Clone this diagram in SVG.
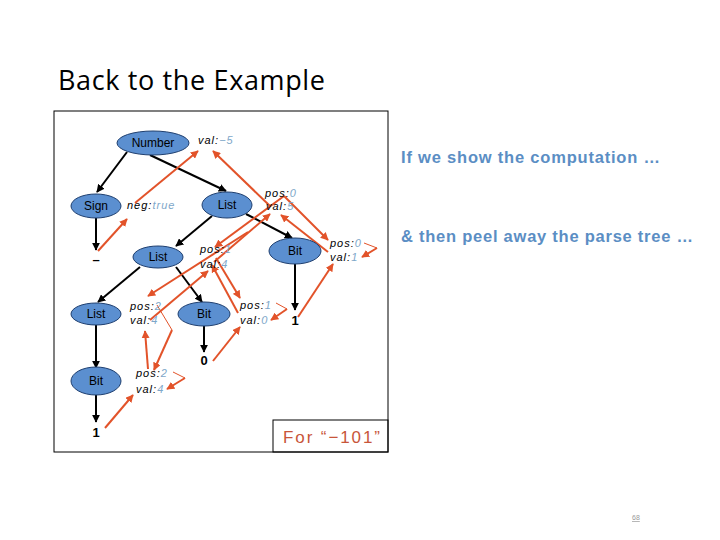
<svg xmlns="http://www.w3.org/2000/svg" width="720" height="540" viewBox="0 0 720 540">
<defs>
<marker id="bk" viewBox="0 0 10 10" refX="9" refY="5" markerWidth="8" markerHeight="8" markerUnits="userSpaceOnUse" orient="auto"><path d="M0,0 L10,5 L0,10 z" fill="#000"/></marker>
<marker id="or" viewBox="0 0 10 10" refX="9" refY="5" markerWidth="8" markerHeight="8" markerUnits="userSpaceOnUse" orient="auto"><path d="M0,0 L10,5 L0,10 z" fill="#e2532a"/></marker>
</defs>
<style>
.nd{fill:#5b8fd0;stroke:#1f3f6f;stroke-width:1}
.nt{font-family:"Liberation Sans",Arial,sans-serif;font-size:12px;fill:#000;text-anchor:middle}
.at{font-family:"Liberation Sans",Arial,sans-serif;font-size:11px;font-style:italic;fill:#000;letter-spacing:1px}
.v{fill:#7ea7c9}
.tm{font-family:"Liberation Sans",Arial,sans-serif;font-size:13px;font-weight:bold;fill:#000;text-anchor:middle}
.e{stroke:#000;stroke-width:2;fill:none;marker-end:url(#bk)}
.o{stroke:#e2532a;stroke-width:2;fill:none;marker-end:url(#or)}
.ot{stroke:#e2532a;stroke-width:1;fill:none}
.side{font-family:"Liberation Sans",Arial,sans-serif;font-size:16.5px;font-weight:bold;fill:#5b8ec4}
</style>
<rect width="720" height="540" fill="#fff"/>
<text x="58" y="90" font-family="'Open Sans','Liberation Sans',sans-serif" font-size="27" fill="#000" textLength="267">Back to the Example</text>
<rect x="54" y="111" width="334" height="341" fill="none" stroke="#000" stroke-width="1"/>
<rect x="273" y="420" width="115" height="32" fill="none" stroke="#000" stroke-width="1"/>
<text x="283" y="443" font-family="'Liberation Sans',Arial,sans-serif" font-size="17" fill="#c8553a" textLength="97">For “−101”</text>
<text x="401" y="163" class="side" textLength="259">If we show the computation …</text>
<text x="401" y="242" class="side" textLength="292">&amp; then peel away the parse tree …</text>
<text x="632" y="520" font-family="'Liberation Sans',Arial,sans-serif" font-size="7" fill="#999" text-decoration="underline">68</text>
<g id="connectors">
<line class="e" x1="127" y1="152" x2="97" y2="192"/>
<line class="e" x1="150" y1="155" x2="226" y2="191"/>
<line class="e" x1="96" y1="218" x2="96" y2="250"/>
<line class="e" x1="212" y1="216" x2="176" y2="246"/>
<line class="e" x1="246" y1="214" x2="292" y2="238"/>
<line class="e" x1="140" y1="267" x2="98" y2="302"/>
<line class="e" x1="176" y1="267" x2="202" y2="302"/>
<line class="e" x1="96" y1="325" x2="96" y2="368"/>
<line class="e" x1="204" y1="325" x2="204" y2="352"/>
<line class="e" x1="295" y1="264" x2="295" y2="310"/>
<line class="e" x1="96" y1="395" x2="96" y2="422"/>
<line class="o" x1="98" y1="251" x2="127" y2="219"/>
<line class="o" x1="135" y1="203" x2="198" y2="151"/>
<line class="o" x1="270" y1="206" x2="213" y2="151"/>
<line class="o" x1="284" y1="196" x2="215" y2="247"/>
<line class="o" x1="284" y1="196" x2="328" y2="240"/>
<line class="o" x1="214" y1="262" x2="270" y2="214"/>
<line class="o" x1="328" y1="252" x2="281" y2="215"/>
<polyline class="ot" points="364,243 377,248"/>
<line class="o" x1="377" y1="248" x2="362" y2="257"/>
<line class="o" x1="298" y1="317" x2="333" y2="264"/>
<line class="o" x1="248" y1="232" x2="148" y2="296"/>
<line class="o" x1="150" y1="320" x2="208" y2="271"/>
<line class="o" x1="216" y1="258" x2="240" y2="298"/>
<line class="o" x1="238" y1="313" x2="212" y2="265"/>
<polyline class="ot" points="276,303 287,309"/>
<line class="o" x1="287" y1="309" x2="271" y2="320"/>
<line class="o" x1="213" y1="361" x2="240" y2="327"/>
<polyline class="ot" points="157,305 172,330"/>
<line class="o" x1="172" y1="330" x2="154" y2="370"/>
<line class="o" x1="148" y1="369" x2="145" y2="331"/>
<polyline class="ot" points="173,372 185,378"/>
<line class="o" x1="185" y1="378" x2="167" y2="389"/>
<line class="o" x1="105" y1="428" x2="133" y2="395"/>
</g>
<g id="Number"><ellipse class="nd" cx="153" cy="143" rx="36" ry="12"/><text class="nt" x="153" y="147">Number</text></g>
<g id="Sign"><ellipse class="nd" cx="96" cy="206" rx="25" ry="12"/><text class="nt" x="96" y="210">Sign</text></g>
<g id="List0"><ellipse class="nd" cx="227" cy="205" rx="25" ry="13"/><text class="nt" x="227" y="209">List</text></g>
<g id="List1"><ellipse class="nd" cx="158" cy="257" rx="25" ry="11"/><text class="nt" x="158" y="261">List</text></g>
<g id="List2"><ellipse class="nd" cx="96" cy="314" rx="25" ry="11"/><text class="nt" x="96" y="318">List</text></g>
<g id="Bit1"><ellipse class="nd" cx="204" cy="314" rx="26" ry="12"/><text class="nt" x="204" y="318">Bit</text></g>
<g id="Bit0"><ellipse class="nd" cx="295" cy="251" rx="26" ry="13"/><text class="nt" x="295" y="255">Bit</text></g>
<g id="Bit2"><ellipse class="nd" cx="96" cy="381" rx="25" ry="14"/><text class="nt" x="96" y="385">Bit</text></g>
<g id="terminals">
<text class="tm" x="96" y="264">–</text>
<text class="tm" x="295" y="325">1</text>
<text class="tm" x="204" y="365">0</text>
<text class="tm" x="96" y="437">1</text>
</g>
<g id="attrs">
<text class="at" x="198" y="144">val:<tspan class="v">−5</tspan></text>
<text class="at" x="127" y="209">neg:<tspan class="v">true</tspan></text>
<text class="at" x="265" y="197">pos:<tspan class="v">0</tspan></text>
<text class="at" x="266" y="210">val:<tspan class="v">5</tspan></text>
<text class="at" x="200" y="253">pos:<tspan class="v">1</tspan></text>
<text class="at" x="200" y="268">val:<tspan class="v">4</tspan></text>
<text class="at" x="330" y="247">pos:<tspan class="v">0</tspan></text>
<text class="at" x="330" y="261">val:<tspan class="v">1</tspan></text>
<text class="at" x="130" y="310">pos:<tspan class="v">2</tspan></text>
<text class="at" x="130" y="324">val:<tspan class="v">4</tspan></text>
<text class="at" x="240" y="309">pos:<tspan class="v">1</tspan></text>
<text class="at" x="240" y="324">val:<tspan class="v">0</tspan></text>
<text class="at" x="136" y="377">pos:<tspan class="v">2</tspan></text>
<text class="at" x="136" y="393">val:<tspan class="v">4</tspan></text>
</g>
</svg>
